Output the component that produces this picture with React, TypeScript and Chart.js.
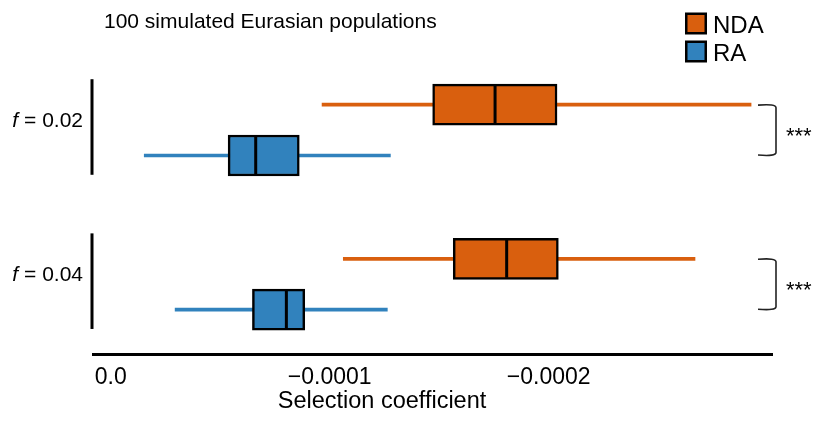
import React, { useEffect, useRef } from 'react';
import { Chart, registerables } from 'chart.js';

Chart.register(...registerables);

// ---- data ----
const GROUP_LABELS = ['0.02', '0.04'];
const SERIES_NAMES = ['NDA', 'RA'];
const NDA_LOW = [-0.0000965, -0.0001062];
const NDA_Q1 = [-0.000147, -0.0001564];
const NDA_MEDIAN = [-0.0001755, -0.0001808];
const NDA_Q3 = [-0.0002038, -0.0002044];
const NDA_HIGH = [-0.0002924, -0.0002668];
const RA_LOW = [-0.0000153, -0.0000294];
const RA_Q1 = [-0.0000536, -0.0000647];
const RA_MEDIAN = [-0.0000662, -0.0000802];
const RA_Q3 = [-0.0000861, -0.0000886];
const RA_HIGH = [-0.0001277, -0.0001263];
const X_TICK_VALUES = [0, -0.0001, -0.0002];
const X_TICK_LABELS = ['0.0', '\u22120.0001', '\u22120.0002'];
const SIGNIFICANCE = ['***', '***'];
const TITLE = '100 simulated Eurasian populations';
const X_TITLE = 'Selection coefficient';

const FONT = "'Liberation Sans', Arial, Helvetica, sans-serif";
const ORANGE = '#D95F0E';
const BLUE = '#3182BD';
const OFFSET = 0.165;

const rowPos = (gi: number, si: number) => gi + 1 + (si === 0 ? -OFFSET : OFFSET);

const annotations = {
  id: 'annotations',
  afterDraw(chart: any) {
    const { ctx, chartArea } = chart;
    const ys = chart.scales.y;
    ctx.save();
    ctx.fillStyle = '#000';
    // title
    ctx.font = `21px ${FONT}`;
    ctx.textAlign = 'left';
    ctx.textBaseline = 'alphabetic';
    ctx.fillText(TITLE, 104, 27.5);

    // legend
    const legendSets = chart.data.datasets.filter((d: any) => d.showInLegend);
    legendSets.forEach((d: any, i: number) => {
      const x = 685, y = 12.5 + i * 28, s = 22;
      ctx.fillStyle = '#000';
      ctx.fillRect(x, y, s, s);
      ctx.fillStyle = d.backgroundColor;
      ctx.fillRect(x + 2.5, y + 2.5, s - 5, s - 5);
      ctx.fillStyle = '#000';
      ctx.font = `24px ${FONT}`;
      ctx.textAlign = 'left';
      ctx.textBaseline = 'alphabetic';
      ctx.fillText(d.label, 713, y + s - 1.5);
    });

    // group labels and spines, brackets
    GROUP_LABELS.forEach((g, i) => {
      const cy = ys.getPixelForValue(i + 1);
      const right = chartArea.left - 10;
      ctx.font = `italic 21px ${FONT}`;
      const wf = ctx.measureText('f').width;
      ctx.font = `21px ${FONT}`;
      const rest = ' = ' + g;
      const wr = ctx.measureText(rest).width;
      ctx.textBaseline = 'middle';
      ctx.textAlign = 'left';
      ctx.font = `italic 21px ${FONT}`;
      ctx.fillText('f', right - wr - wf, cy - 9);
      ctx.font = `21px ${FONT}`;
      ctx.fillText(rest, right - wr, cy - 9);

      // spine
      ctx.fillRect(chartArea.left - 2.5, ys.getPixelForValue(i + 1 - 0.33), 3, ys.getPixelForValue(i + 1 + 0.29) - ys.getPixelForValue(i + 1 - 0.33));

      // bracket
      const y0 = ys.getPixelForValue(rowPos(i, 0));
      const y1 = ys.getPixelForValue(rowPos(i, 1));
      const x0 = chartArea.right - 14;
      const x1 = chartArea.right + 4;
      ctx.strokeStyle = '#222';
      ctx.lineWidth = 1.6;
      ctx.beginPath();
      ctx.moveTo(x0, y0 + 0.5);
      ctx.quadraticCurveTo(x1, y0 - 1, x1, y0 + 3);
      ctx.lineTo(x1, y1 - 3);
      ctx.quadraticCurveTo(x1, y1 + 1, x0, y1 - 0.5);
      ctx.stroke();
      ctx.font = `22px ${FONT}`;
      ctx.textBaseline = 'alphabetic';
      ctx.textAlign = 'left';
      ctx.fillStyle = '#000';
      ctx.fillText(SIGNIFICANCE[i], chartArea.right + 14, (y0 + y1) / 2 + 12.5);
    });

    // x-axis title
    ctx.font = `23.5px ${FONT}`;
    ctx.textAlign = 'center';
    ctx.textBaseline = 'alphabetic';
    ctx.fillText(X_TITLE, 382, 408);
    ctx.restore();
  },
};

export default function App() {
  const ref = useRef<HTMLCanvasElement | null>(null);
  useEffect(() => {
    if (!ref.current) return;
    const series = [
      { name: SERIES_NAMES[0], color: ORANGE, low: NDA_LOW, q1: NDA_Q1, med: NDA_MEDIAN, q3: NDA_Q3, high: NDA_HIGH },
      { name: SERIES_NAMES[1], color: BLUE, low: RA_LOW, q1: RA_Q1, med: RA_MEDIAN, q3: RA_Q3, high: RA_HIGH },
    ];
    const datasets: any[] = [];
    series.forEach((s, si) => {
      datasets.push({
        type: 'bar',
        label: s.name + ' whisker',
        data: GROUP_LABELS.map((_, gi) => ({ y: rowPos(gi, si), x: [s.low[gi], s.high[gi]] })),
        backgroundColor: s.color,
        borderWidth: 0,
        barThickness: 3,
        grouped: false,
        order: 3,
      });
    });
    series.forEach((s, si) => {
      datasets.push({
        type: 'bar',
        label: s.name,
        showInLegend: true,
        data: GROUP_LABELS.map((_, gi) => ({ y: rowPos(gi, si), x: [s.q1[gi], s.q3[gi]] })),
        backgroundColor: s.color,
        borderColor: '#000',
        borderWidth: 2.5,
        borderSkipped: false,
        barThickness: 41,
        grouped: false,
        order: 2,
      });
    });
    series.forEach((s, si) => {
      datasets.push({
        type: 'scatter',
        label: s.name + ' median',
        data: GROUP_LABELS.map((_, gi) => ({ y: rowPos(gi, si), x: s.med[gi] })),
        pointStyle: 'line',
        pointRotation: 90,
        pointRadius: 19,
        pointBorderColor: '#000',
        pointBorderWidth: 3,
        showLine: false,
        order: 1,
      });
    });

    const chart = new Chart(ref.current, {
      type: 'bar',
      data: { datasets },
      options: {
        indexAxis: 'y',
        responsive: false,
        animation: false,
        events: [],
        layout: { padding: { left: 93, right: 45, top: 53, bottom: 20 } },
        plugins: { legend: { display: false }, tooltip: { enabled: false }, title: { display: false } },
        scales: {
          x: {
            type: 'linear',
            reverse: true,
            min: -0.00030196,
            max: 0.0000081,
            offset: false,
            grid: { display: false, drawTicks: false },
            border: { display: true, width: 3, color: '#000' },
            afterBuildTicks: (scale: any) => {
              scale.ticks = X_TICK_VALUES.map((v) => ({ value: v }));
            },
            ticks: {
              padding: 9.5,
              maxRotation: 0,
              autoSkip: false,
              color: '#000',
              font: { family: FONT, size: 23 },
              callback: (_v: any, i: number) => X_TICK_LABELS[i],
            },
          },
          y: {
            type: 'linear',
            reverse: true,
            min: 0.5,
            max: 2.455,
            offset: false,
            display: false,
          },
        },
      },
      plugins: [annotations],
    } as any);
    return () => chart.destroy();
  }, []);
  return (
    <div style={{ position: 'fixed', left: 0, top: 0, width: 817, height: 421, background: '#fff' }}>
      <canvas ref={ref} width={817} height={421} style={{ width: 817, height: 421, display: 'block' }} />
    </div>
  );
}
